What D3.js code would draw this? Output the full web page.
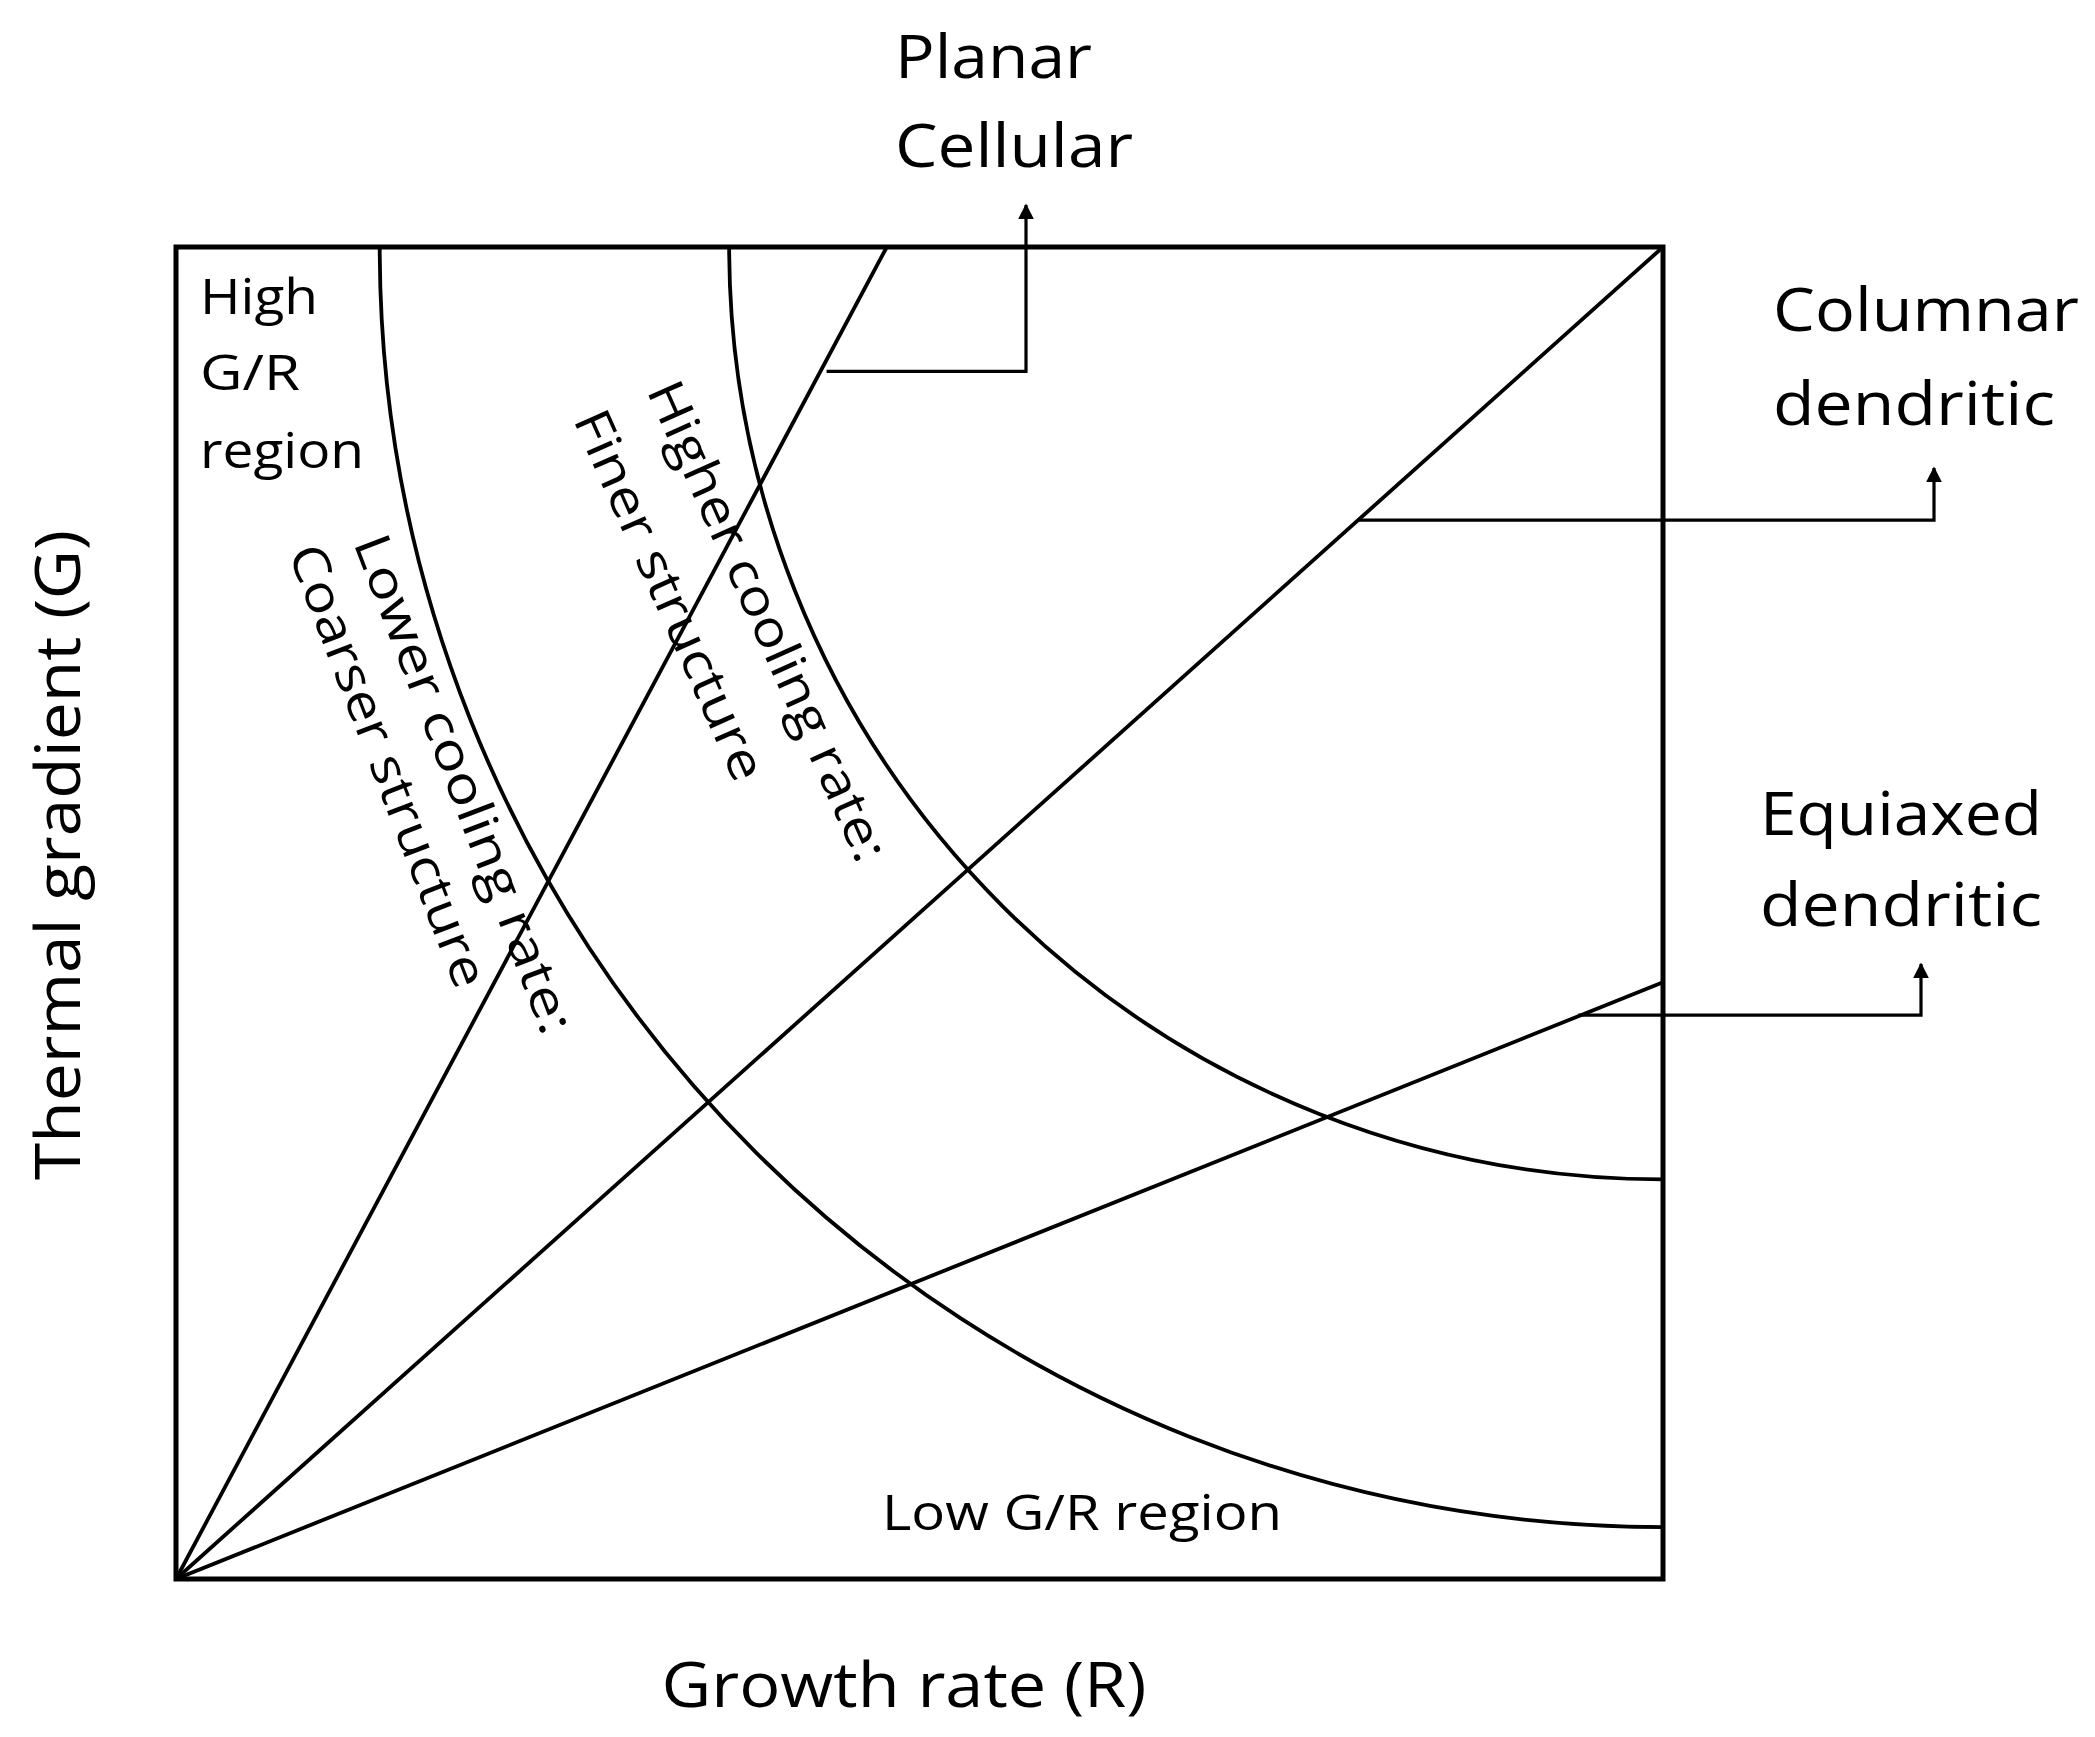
<!DOCTYPE html>
<html><head><meta charset="utf-8">
<script src="https://cdn.jsdelivr.net/npm/d3@7"></script>
<style>body{margin:0;background:#fff}</style></head>
<body><svg id="c" width="2095" height="1737"></svg>
<script>
// G/R ratio lines: end point (x,y) in normalized R,G units
const ratioLines = [
  {name:"Planar", x:0.478, y:1.0},
  {name:"Columnar", x:1.0, y:1.0},
  {name:"Equiaxed", x:1.0, y:0.448}
];
// cooling-rate curves (G*R constant) as quarter ellipses centered at (1,1): start at top x0, end at right y1
const coolingCurves = [
  {name:"Lower", x0:0.137, y1:0.039},
  {name:"Higher", x0:0.372, y1:0.300}
];
// callouts: start point on a line (data units), elbow x, arrow tip y (pixels)
const callouts = [
  {x:0.4375, y:0.9066, ex:1026, ty:205},
  {x:0.795, y:0.795, ex:1934, ty:468},
  {x:0.943, y:0.4234, ex:1921, ty:964}
];
const svg = d3.select("#c");
const X = d3.scaleLinear().domain([0,1]).range([176,1663]);
const Y = d3.scaleLinear().domain([0,1]).range([1579,247]);
const font = "'Open Sans', sans-serif";
svg.append("defs").append("marker").attr("id","ah").attr("viewBox","0 0 10 10").attr("refX",9).attr("refY",5)
  .attr("markerWidth",5).attr("markerHeight",6).attr("orient","auto")
  .append("path").attr("d","M0,0L10,5L0,10z").attr("fill","#000");
svg.append("rect").attr("x",X(0)).attr("y",Y(1)).attr("width",X(1)-X(0)).attr("height",Y(0)-Y(1))
  .attr("fill","none").attr("stroke","#000").attr("stroke-width",5);
ratioLines.forEach(d=>svg.append("line").attr("x1",X(0)).attr("y1",Y(0)).attr("x2",X(d.x)).attr("y2",Y(d.y))
  .attr("stroke","#000").attr("stroke-width",3.8));
coolingCurves.forEach(c=>{
  const rx = X(1)-X(c.x0), ry = Y(c.y1)-Y(1);
  svg.append("path").attr("d",`M${X(c.x0)},${Y(1)} A${rx},${ry} 0 0 0 ${X(1)},${Y(c.y1)}`)
    .attr("fill","none").attr("stroke","#000").attr("stroke-width",3.8);
});
callouts.forEach(c=>{
  svg.append("path").attr("d",`M${X(c.x)},${Y(c.y)} H${c.ex} V${c.ty}`).attr("fill","none")
    .attr("stroke","#000").attr("stroke-width",3.2).attr("marker-end","url(#ah)");
});
function txt(s,x,y,size,opts={}){
  const t=svg.append("text").attr("x",x).attr("y",y).text(s).attr("font-family",font)
    .attr("font-size",size).attr("fill","#000").attr("text-anchor",opts.anchor||"start")
    .attr("textLength",opts.len||null).attr("lengthAdjust","spacingAndGlyphs");
  if(opts.rot!=null) t.attr("transform",`rotate(${opts.rot},${x},${y})`);
  return t;
}
txt("Planar",895,78,60,{len:197});
txt("Cellular",895,167,60,{len:238});
txt("Columnar",1773,331,60,{len:306});
txt("dendritic",1773,425,60,{len:282});
txt("Equiaxed",1760,835,60,{len:282});
txt("dendritic",1760,926,60,{len:282});
txt("High",200,314,50,{len:118});
txt("G/R",200,390,50,{len:100});
txt("region",200,468,50,{len:164});
txt("Low G/R region",882,1530,50,{len:400});
txt("Growth rate (R)",904,1707,62,{anchor:"middle",len:485});
txt("Thermal gradient (G)",80,855,62,{anchor:"middle",rot:-90,len:650});
txt("Lower cooling rate:",448,790,50,{anchor:"middle",rot:69,len:530});
txt("Coarser structure",372,772,50,{anchor:"middle",rot:69,len:470});
txt("Higher cooling rate:",752,628,50,{anchor:"middle",rot:66,len:520});
txt("Finer structure",654,602,50,{anchor:"middle",rot:66,len:400});
</script></body></html>
